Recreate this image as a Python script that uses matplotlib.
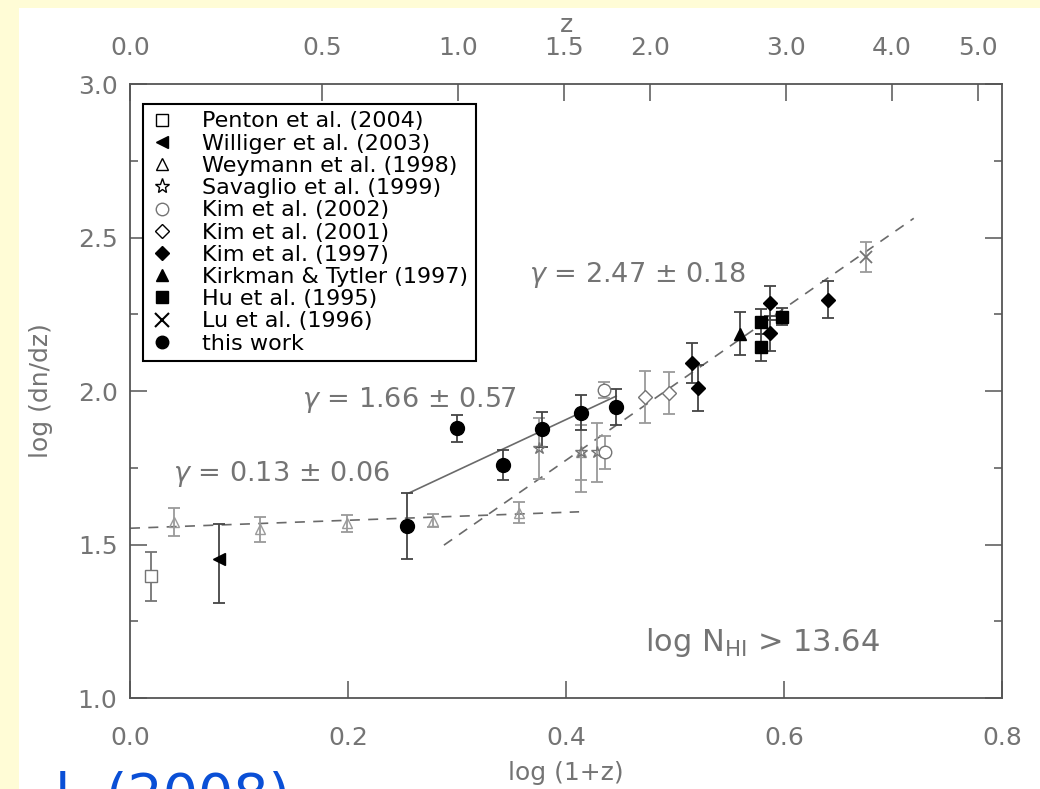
# dn/dz evolution of Lya forest lines

import matplotlib.pyplot as plt
from matplotlib.lines import Line2D
import numpy as np

# log(1+z), log(dn/dz), errors
penton_x = [0.019]
penton_y = [1.397]
penton_err = [0.08]

williger_x = [0.082]
williger_y = [1.453]
williger_err = [[0.143], [0.114]]

weymann_x = [0.040, 0.119, 0.199, 0.278, 0.357, 0.414]
weymann_y = [1.574, 1.549, 1.569, 1.578, 1.604, 1.800]
weymann_err = [0.045, 0.04, 0.027, 0.02, 0.035, 0.13]

savaglio_x = [0.375, 0.414, 0.428]
savaglio_y = [1.813, 1.800, 1.800]
savaglio_err = [0.098, 0.09, 0.095]

kim02_x = [0.435, 0.436]
kim02_y = [2.003, 1.800]
kim02_err = [0.025, 0.055]

kim01_x = [0.472, 0.4945]
kim01_y = [1.981, 1.994]
kim01_err = [0.085, 0.068]

kim97_x = [0.516, 0.521, 0.587, 0.587, 0.640]
kim97_y = [2.090, 2.009, 2.286, 2.188, 2.298]
kim97_err = [0.065, 0.075, 0.055, 0.057, 0.06]

kirkman_x = [0.560]
kirkman_y = [2.186]
kirkman_err = [0.07]

hu_x = [0.579, 0.579, 0.598]
hu_y = [2.226, 2.142, 2.242]
hu_err = [0.04, 0.045, 0.027]

lu_x = [0.675]
lu_y = [2.437]
lu_err = [0.05]

this_x = [0.254, 0.300, 0.342, 0.378, 0.414, 0.446]
this_y = [1.560, 1.878, 1.759, 1.875, 1.930, 1.947]
this_err = [0.108, 0.045, 0.05, 0.058, 0.057, 0.058]

# power-law fits: gamma, x range, value at start
fit_gamma = [0.13, 1.66, 2.47]
fit_x0 = [0.0, 0.256, 0.288]
fit_x1 = [0.412, 0.446, 0.719]
fit_y0 = [1.553, 1.668, 1.498]
fit_text = [r'$\gamma$ = 0.13 $\pm$ 0.06', r'$\gamma$ = 1.66 $\pm$ 0.57',
            r'$\gamma$ = 2.47 $\pm$ 0.18']

z_ticks = [0.0, 0.5, 1.0, 1.5, 2.0, 3.0, 4.0, 5.0]

legend_names = ['Penton et al. (2004)', 'Williger et al. (2003)',
                'Weymann et al. (1998)', 'Savaglio et al. (1999)',
                'Kim et al. (2002)', 'Kim et al. (2001)', 'Kim et al. (1997)',
                'Kirkman & Tytler (1997)', 'Hu et al. (1995)',
                'Lu et al. (1996)', 'this work']

gray = '#747474'
light = '#9a9a9a'

fig = plt.figure(figsize=(10.4, 7.89), dpi=100, facecolor='#fffcd6')
fig.patches.append(plt.Rectangle((19 / 1040, 0), 1, 1 - 8 / 789,
                                 transform=fig.transFigure,
                                 facecolor='white', edgecolor='none',
                                 zorder=-10))

ax = fig.add_axes([0.125, 0.1153, 0.8385, 0.7782])
ax.set_xlim(0, 0.8)
ax.set_ylim(1.0, 3.0)

# fit lines
styles = [(0, (6, 5)), '-', (0, (6, 5))]
for g, x0, x1, y0, ls in zip(fit_gamma, fit_x0, fit_x1, fit_y0, styles):
    xx = np.array([x0, x1])
    ax.plot(xx, y0 + g * (xx - x0), ls=ls, color='#6a6a6a', lw=1.2, zorder=1)

ekw = dict(ls='none', capsize=4, elinewidth=1.3, capthick=1.3)

ax.errorbar(penton_x, penton_y, yerr=penton_err, fmt='s', ms=9, mfc='white',
            mec=gray, ecolor=gray, **ekw)
ax.errorbar(williger_x, williger_y, yerr=williger_err, fmt='<', ms=8,
            color='black', ecolor='#444444', **ekw)
ax.errorbar(weymann_x, weymann_y, yerr=weymann_err, fmt='^', ms=7,
            mfc='none', mec=light, ecolor=light, **ekw)
ax.errorbar(savaglio_x, savaglio_y, yerr=savaglio_err, fmt='*', ms=9,
            mfc='none', mec=gray, ecolor=light, **ekw)
ax.errorbar(kim02_x, kim02_y, yerr=kim02_err, fmt='o', ms=9, mfc='white',
            mec=gray, ecolor=light, **ekw)
ax.errorbar(kim01_x, kim01_y, yerr=kim01_err, fmt='D', ms=7, mfc='white',
            mec=gray, ecolor=light, **ekw)
ax.errorbar(kim97_x, kim97_y, yerr=kim97_err, fmt='D', ms=7, color='black',
            ecolor='#444444', **ekw)
ax.errorbar(kirkman_x, kirkman_y, yerr=kirkman_err, fmt='^', ms=9,
            color='black', ecolor='#444444', **ekw)
ax.errorbar(hu_x, hu_y, yerr=hu_err, fmt='s', ms=8, color='black',
            ecolor='#444444', **ekw)
ax.errorbar(lu_x, lu_y, yerr=lu_err, fmt='x', ms=9, mew=1.3, color=gray,
            ecolor=light, **ekw)
ax.errorbar(this_x, this_y, yerr=this_err, fmt='o', ms=10, color='black',
            ecolor='#444444', **ekw)

for t, x, y in zip(fit_text, [0.039, 0.158, 0.366], [1.73, 1.97, 2.378]):
    ax.text(x, y, t, color=gray, fontsize=19.5, va='center')
ax.text(0.472, 1.18, r'log N$_{\mathrm{HI}}$ > 13.64', color=gray,
        fontsize=22, va='center')

# legend
handles = [
    Line2D([], [], ls='none', marker='s', ms=9, mfc='white', mec='black'),
    Line2D([], [], ls='none', marker='<', ms=8, color='black'),
    Line2D([], [], ls='none', marker='^', ms=9, mfc='white', mec='black'),
    Line2D([], [], ls='none', marker='*', ms=11, mfc='none', mec='black'),
    Line2D([], [], ls='none', marker='o', ms=9, mfc='white', mec=gray),
    Line2D([], [], ls='none', marker='D', ms=7, mfc='white', mec='black'),
    Line2D([], [], ls='none', marker='D', ms=7, color='black'),
    Line2D([], [], ls='none', marker='^', ms=9, color='black'),
    Line2D([], [], ls='none', marker='s', ms=8, color='black'),
    Line2D([], [], ls='none', marker='x', ms=10, mew=1.5, color='black'),
    Line2D([], [], ls='none', marker='o', ms=9, color='black'),
]
leg = ax.legend(handles, legend_names, loc='upper left',
                bbox_to_anchor=(0.015, 0.968), borderaxespad=0,
                fontsize=16, labelspacing=0.1, handlelength=1.0,
                handletextpad=1.3, borderpad=0.35, fancybox=False,
                framealpha=1, edgecolor='black')
leg.get_frame().set_linewidth(1.5)

# axes styling
for s in ax.spines.values():
    s.set_color('#555555')
    s.set_linewidth(1.3)
ax.set_xticks([0.0, 0.2, 0.4, 0.6, 0.8])
ax.set_xticklabels(['0.0', '0.2', '0.4', '0.6', '0.8'])
ax.set_yticks([1.0, 1.5, 2.0, 2.5, 3.0])
ax.set_yticks([1.25, 1.75, 2.25, 2.75], minor=True)
ax.tick_params(which='both', direction='in', colors='#555555',
               labelcolor=gray, labelsize=18, right=True, top=False)
ax.tick_params(axis='x', length=12, width=1.1, pad=20)
ax.tick_params(axis='y', which='major', length=12, width=1.1, pad=9)
ax.tick_params(axis='y', which='minor', length=6, width=1.1)
ax.set_xlabel('log (1+z)', color=gray, fontsize=18, labelpad=8)
ax.set_ylabel('log (dn/dz)', color=gray, fontsize=18, labelpad=18)

top = ax.twiny()
top.set_xlim(ax.get_xlim())
top.set_xticks(np.log10(1 + np.array(z_ticks)))
top.set_xticklabels(['%.1f' % z for z in z_ticks])
top.tick_params(direction='in', length=12, width=1.1, colors='#555555',
                labelcolor=gray, labelsize=18, pad=17)
top.set_xlabel('z', color=gray, fontsize=18, labelpad=3)
for s in top.spines.values():
    s.set_visible(False)

fig.text(55 / 1040, -0.03, 'l. (2008)', color='#0a4fd6', fontsize=40,
         va='baseline')

plt.savefig('out.png', dpi=100, facecolor=fig.get_facecolor())
